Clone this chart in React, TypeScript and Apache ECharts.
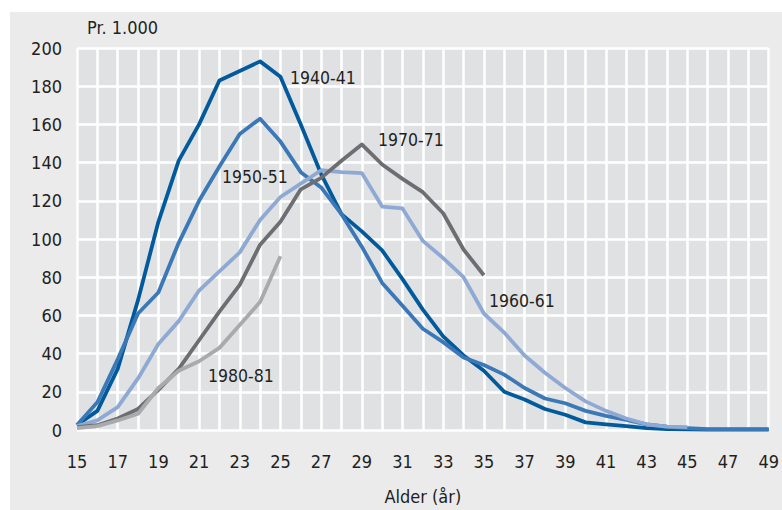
import React, { useEffect, useRef } from "react";
import * as echarts from "echarts";

const ages = [
  "15", "16", "17", "18", "19", "20", "21", "22", "23", "24", "25", "26",
  "27", "28", "29", "30", "31", "32", "33", "34", "35", "36", "37", "38",
  "39", "40", "41", "42", "43", "44", "45", "46", "47", "48", "49",
];

const s1940 = [
  2.6, 10, 32, 68, 109, 141, 160, 183, 188, 193, 185, 160, 134, 113, 104, 94,
  79, 63, 49, 39, 31, 20, 16, 11, 8, 4, 3, 2, 1, 0.5, 0.3, 0.2, 0.2, 0.2, 0.2,
];
const s1950 = [
  2.6, 14.5, 37, 61, 72, 98, 120, 138, 155, 163, 151, 135, 127, 113, 96, 77,
  65, 53, 46, 38, 34, 29, 22, 16.5, 14, 10, 7.4, 5.3, 3, 1.7, 1, 0.5, 0.5, 0.5,
  0.5,
];
const s1960 = [
  2, 5, 12, 27, 45, 57, 73, 83, 93, 110, 122, 129, 136, 135, 134.5, 117, 116,
  99, 90, 80, 61, 51, 39, 30, 22, 15, 10, 6, 3, 1.8, 1.5,
];
const s1970 = [
  1.5, 2.5, 6, 11, 21, 32, 47, 62, 76, 97, 109, 126, 132, 141, 149.5, 139,
  131.5, 124.5, 113.5, 94.5, 81,
];
const s1980 = [1, 2, 5, 8.5, 22, 31, 36, 43, 55, 67, 91];

const seriesNames = ["1940-41", "1950-51", "1960-61", "1970-71", "1980-81"];
const seriesData = [s1940, s1950, s1960, s1970, s1980];
const seriesColors = ["#005a9c", "#3b78b7", "#8eaad4", "#6d6e71", "#a9aaac"];

const yTicks = { min: 0, max: 200, interval: 20 };

const FONT =
  '"Liberation Sans Narrow", "DejaVu Sans Condensed", Roboto, "Liberation Sans", sans-serif';
const TEXT = "#231f20";

export default function App() {
  const ref = useRef<HTMLDivElement>(null);

  useEffect(() => {
    if (!ref.current) return;
    const chart = echarts.init(ref.current, null, { renderer: "svg" });
    const labelPos = [
      { x: 290, y: 78 },
      { x: 222, y: 177 },
      { x: 489, y: 301 },
      { x: 378, y: 140 },
      { x: 208, y: 376 },
    ];
    chart.setOption({
      animation: false,
      grid: {
        left: 77,
        right: 9,
        top: 48,
        bottom: 73,
        show: true,
        backgroundColor: "#e0e1e3",
        borderWidth: 0,
      },
      xAxis: {
        type: "category",
        data: ages,
        boundaryGap: false,
        name: "Alder (år)",
        nameLocation: "middle",
        nameGap: 57,
        nameTextStyle: { fontFamily: FONT, fontSize: 18, color: TEXT },
        axisLine: { show: false },
        axisTick: { show: false },
        axisLabel: {
          interval: 1,
          margin: 22,
          fontFamily: FONT,
          fontSize: 18,
          color: TEXT,
        },
        splitLine: {
          show: true,
          interval: 0,
          lineStyle: { color: "#ffffff", width: 2.5 },
        },
      },
      yAxis: {
        type: "value",
        min: yTicks.min,
        max: yTicks.max,
        interval: yTicks.interval,
        axisLine: { show: false },
        axisTick: { show: false },
        axisLabel: {
          margin: 15,
          fontFamily: FONT,
          fontSize: 18,
          color: TEXT,
        },
        splitLine: { show: true, lineStyle: { color: "#ffffff", width: 2.5 } },
      },
      graphic: [
        {
          type: "text",
          left: 87,
          top: 18,
          style: {
            text: "Pr. 1.000",
            fontFamily: FONT,
            fontSize: 18,
            fill: TEXT,
          },
        },
        ...seriesNames.map((n, i) => ({
          type: "text",
          x: labelPos[i].x,
          y: labelPos[i].y,
          style: {
            text: n,
            fontFamily: FONT,
            fontSize: 17.5,
            fill: TEXT,
            verticalAlign: "middle",
          },
          z: 100,
        })),
      ],
      series: seriesNames.map((n, i) => ({
        name: n,
        type: "line",
        data: seriesData[i],
        symbol: "none",
        lineStyle: { color: seriesColors[i], width: 3.8, join: "round" },
        z: 2 + i,
      })),
    });
    return () => chart.dispose();
  }, []);

  return (
    <div
      style={{
        position: "absolute",
        left: 0,
        top: 0,
        width: 782,
        height: 510,
        background: "#ffffff",
      }}
    >
      <div
        style={{
          position: "absolute",
          left: 10,
          top: 12,
          width: 772,
          height: 498,
          background: "#ebebec",
        }}
      />
      <div
        ref={ref}
        style={{ position: "absolute", left: 0, top: 0, width: 782, height: 510 }}
      />
    </div>
  );
}
